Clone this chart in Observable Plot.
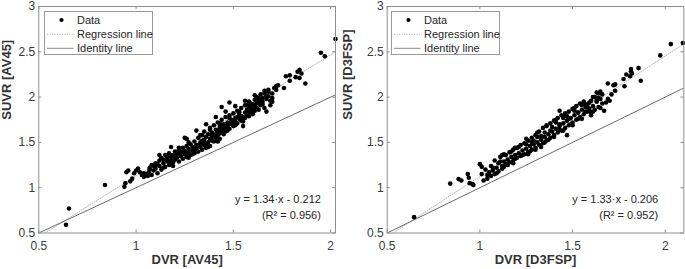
<!DOCTYPE html>
<html>
<head>
<meta charset="utf-8">
<script src="https://cdn.jsdelivr.net/npm/d3@7"></script>
<script src="https://cdn.jsdelivr.net/npm/@observablehq/plot@0.6"></script>
<style>
  html, body { margin: 0; padding: 0; background: white; }
  #wrap { position: relative; width: 685px; height: 269px; overflow: hidden; font-family: "Liberation Sans", Arial, sans-serif; }
  #wrap svg.plot { position: absolute; top: 0; }
  .legend { position: absolute; width: 109px; height: 44px; border: 1px solid #9a9a9a; background: white; box-sizing: border-box; }
</style>
</head>
<body>
<div id="wrap"></div>
<script>
// ---------------- data ----------------
const xTickValues = [0.5, 1, 1.5, 2];
const yTickValues = [0.5, 1, 1.5, 2, 2.5, 3];
const legendLabels = ["Data", "Regression line", "Identity line"];

// Panel A: AV45
const av45Dvr = [0.64,0.655,0.84,0.94,0.945,0.95,0.96,0.97,0.98,0.99,1.00,1.01,1.02,1.03,1.04,1.05,1.06,1.065,1.07,1.08,1.08,1.09,1.10,1.10,1.11,1.12,1.12,1.13,1.13,1.14,1.15,1.15,1.16,1.16,1.17,1.17,1.18,1.18,1.19,1.19,1.20,1.20,1.21,1.21,1.22,1.22,1.23,1.23,1.24,1.24,1.25,1.25,1.26,1.26,1.26,1.27,1.27,1.28,1.28,1.29,1.29,1.30,1.30,1.31,1.31,1.32,1.32,1.33,1.33,1.34,1.34,1.35,1.35,1.35,1.36,1.36,1.37,1.37,1.38,1.38,1.38,1.39,1.39,1.40,1.40,1.40,1.41,1.41,1.42,1.42,1.43,1.43,1.43,1.44,1.44,1.44,1.45,1.45,1.46,1.46,1.46,1.47,1.47,1.48,1.48,1.48,1.49,1.49,1.50,1.50,1.51,1.51,1.52,1.52,1.53,1.53,1.54,1.54,1.55,1.55,1.56,1.56,1.57,1.57,1.58,1.58,1.59,1.59,1.60,1.60,1.61,1.61,1.62,1.62,1.63,1.63,1.64,1.64,1.65,1.65,1.66,1.66,1.67,1.67,1.68,1.68,1.69,1.69,1.70,1.71,1.72,1.73,1.76,1.77,1.79,1.79,1.82,1.83,1.84,1.84,1.85,1.87,1.95,1.97,2.025,
  1.09,1.11,1.14,1.18,1.20,1.22,1.24,1.27,1.29,1.30,1.31,1.33,1.34,1.36,1.37,1.39,1.41,1.42,1.44,1.45,1.47,1.48,1.50,1.51,1.52,1.53,1.54,1.56,1.57,1.58,1.59,1.60,1.61,1.62,1.63,1.65,1.67,1.70,1.72,1.60,1.55,
  1.12,1.14,1.18,1.19,1.25,1.26,1.31,1.30,1.36,1.35,1.41,1.39,1.42,1.46,1.45,1.51,1.50,1.56,1.55,1.61,1.60,1.66,1.64,1.68,1.70,1.33,1.38,1.43,1.48,1.53,1.58,1.63,1.27,1.22,1.16,1.10,1.07,1.04];
const av45Suvr = [0.59,0.77,1.03,1.01,1.05,1.17,1.19,1.07,1.10,1.16,1.19,1.21,1.17,1.14,1.12,1.15,1.13,1.17,1.22,1.25,1.14,1.19,1.21,1.27,1.16,1.30,1.24,1.20,1.33,1.27,1.23,1.36,1.29,1.32,1.25,1.38,1.30,1.34,1.28,1.36,1.31,1.40,1.33,1.37,1.29,1.42,1.35,1.39,1.32,1.44,1.37,1.41,1.34,1.46,1.54,1.39,1.43,1.36,1.48,1.41,1.45,1.38,1.51,1.43,1.47,1.40,1.55,1.45,1.50,1.42,1.58,1.47,1.53,1.62,1.44,1.56,1.50,1.59,1.46,1.54,1.66,1.52,1.61,1.51,1.57,1.69,1.55,1.64,1.58,1.72,1.60,1.67,1.54,1.63,1.75,1.89,1.59,1.70,1.66,1.78,1.62,1.72,1.68,1.65,1.80,1.94,1.70,1.75,1.68,1.82,1.73,1.77,1.71,1.85,1.76,1.80,1.74,1.88,1.78,1.68,1.83,1.91,1.80,1.86,1.84,1.95,1.88,1.82,1.92,1.86,1.97,1.90,1.88,2.00,1.94,1.86,1.97,2.03,1.92,1.99,2.04,1.88,1.84,1.98,2.06,2.01,1.91,1.96,2.04,2.10,2.12,2.13,2.10,2.23,2.24,2.18,2.22,2.28,2.30,2.21,2.26,2.15,2.49,2.45,2.64,
  1.24,1.26,1.31,1.27,1.35,1.38,1.40,1.33,1.37,1.44,1.40,1.48,1.52,1.49,1.45,1.56,1.59,1.63,1.67,1.64,1.63,1.71,1.74,1.69,1.78,1.84,1.79,1.77,1.91,1.79,1.93,1.83,1.85,1.93,1.99,1.95,2.01,1.99,2.08,1.81,1.73,
  1.36,1.22,1.45,1.24,1.55,1.38,1.63,1.41,1.70,1.49,1.78,1.58,1.51,1.84,1.62,1.90,1.70,1.96,1.76,2.02,1.84,2.07,1.91,2.08,1.95,1.58,1.64,1.71,1.77,1.83,1.90,1.96,1.50,1.44,1.34,1.25,1.20,1.16];

// Panel B: D3FSP
const d3fspDvr = [0.645,0.84,0.885,0.90,0.935,0.94,0.945,0.965,0.96,1.00,1.01,1.01,1.02,1.03,1.04,1.05,1.06,1.06,1.07,1.08,1.08,1.09,1.10,1.10,1.11,1.12,1.12,1.13,1.14,1.14,1.15,1.16,1.16,1.17,1.18,1.18,1.19,1.20,1.20,1.21,1.22,1.22,1.23,1.24,1.24,1.25,1.26,1.26,1.27,1.28,1.28,1.29,1.30,1.30,1.31,1.32,1.32,1.33,1.34,1.34,1.35,1.36,1.36,1.37,1.38,1.38,1.39,1.40,1.40,1.41,1.42,1.42,1.43,1.43,1.44,1.44,1.45,1.46,1.46,1.47,1.47,1.48,1.48,1.49,1.50,1.50,1.51,1.52,1.52,1.53,1.54,1.54,1.55,1.56,1.56,1.57,1.58,1.58,1.59,1.60,1.60,1.61,1.62,1.62,1.63,1.63,1.64,1.65,1.65,1.66,1.67,1.69,1.69,1.70,1.71,1.72,1.73,1.73,1.775,1.78,1.79,1.81,1.815,1.815,1.82,1.856,1.868,1.973,2.03,2.095,
  1.11,1.13,1.15,1.17,1.19,1.21,1.23,1.25,1.27,1.29,1.31,1.33,1.35,1.37,1.39,1.41,1.43,1.45,1.47,1.49,1.51,1.53,1.55,1.57,1.59,1.61,1.64,1.66,1.68,
  1.12,1.13,1.19,1.18,1.25,1.26,1.31,1.30,1.36,1.35,1.41,1.40,1.46,1.45,1.51,1.50,1.56,1.55,1.61,1.60,1.64,1.65,1.28,1.33,1.38,1.43,1.48,1.53,1.58,1.63,1.04,1.07,1.09];
const d3fspSuvr = [0.675,1.045,1.095,1.08,1.15,1.11,1.05,1.03,1.04,1.26,1.23,1.15,1.08,1.20,1.10,1.17,1.13,1.24,1.19,1.15,1.30,1.22,1.18,1.27,1.34,1.24,1.21,1.29,1.26,1.36,1.31,1.28,1.39,1.34,1.30,1.42,1.36,1.33,1.44,1.38,1.35,1.47,1.41,1.37,1.49,1.43,1.39,1.52,1.46,1.42,1.55,1.48,1.44,1.58,1.50,1.47,1.62,1.53,1.49,1.66,1.56,1.52,1.69,1.59,1.55,1.71,1.62,1.58,1.74,1.65,1.61,1.77,1.68,1.85,1.63,1.80,1.71,1.66,1.82,1.74,1.58,1.69,1.84,1.77,1.72,1.87,1.80,1.75,1.90,1.83,1.78,1.93,1.86,1.81,1.95,1.89,1.84,1.92,1.87,1.96,1.80,1.90,2.00,1.86,1.95,2.05,1.89,1.98,2.06,1.93,1.85,2.15,1.98,1.96,2.03,2.13,2.14,2.07,2.20,2.12,2.25,2.23,2.31,2.285,2.26,2.32,2.18,2.46,2.585,2.597,
  1.29,1.37,1.25,1.40,1.32,1.45,1.36,1.48,1.40,1.52,1.56,1.45,1.61,1.53,1.67,1.72,1.64,1.77,1.79,1.70,1.85,1.76,1.91,1.84,1.94,1.84,1.99,2.03,1.94,
  1.36,1.23,1.44,1.27,1.54,1.37,1.61,1.42,1.68,1.50,1.75,1.56,1.81,1.63,1.88,1.69,1.93,1.76,2.00,1.83,2.04,1.88,1.50,1.57,1.63,1.70,1.76,1.83,1.89,1.96,1.14,1.22,1.16];

const panels = [
  {dvr: av45Dvr, suvr: av45Suvr, xMax: 2.025, tracer: "AV45", slope: 1.34, intercept: -0.212, r2: "0.956",
   left: 0, width: 342, marginLeft: 38.3, marginRight: 7, yLabelDx: -31.5, eqX: 1.95, legendLeft: 44},
  {dvr: d3fspDvr, suvr: d3fspSuvr, xMax: 2.1, tracer: "D3FSP", slope: 1.33, intercept: -0.206, r2: "0.952",
   left: 342, width: 343, marginLeft: 44.7, marginRight: 1.7, yLabelDx: -39, eqX: 1.962, legendLeft: 391}
];

// ---------------- drawing ----------------
const fmt = d3.format("~g");
const axisGray = "#8f8f8f";
const textGray = "#3a3a3a";
const H = 269, marginTop = 6, marginBottom = 36.5;
const tickLen = 3;
const wrap = document.getElementById("wrap");

for (const p of panels) {
  const pts = p.dvr.map((x, i) => ({x, y: p.suvr[i]}));
  const xDom = [0.5, p.xMax];
  const reg = xDom.map(x => ({x, y: p.slope * x + p.intercept}));
  const ident = xDom.map(x => ({x, y: x}));
  const fw = p.width - p.marginLeft - p.marginRight;
  const fh = H - marginTop - marginBottom;
  const eq = `y = ${p.slope}·x - ${Math.abs(p.intercept)}`;
  const r2 = `(R² = ${p.r2})`;

  const chart = Plot.plot({
    width: p.width, height: H,
    marginLeft: p.marginLeft, marginRight: p.marginRight, marginTop, marginBottom,
    x: {domain: xDom},
    y: {domain: [0.5, 3]},
    style: {fontFamily: "'Liberation Sans', Arial, sans-serif", fontSize: "12px", color: textGray, background: "transparent", overflow: "visible"},
    marks: [
      Plot.axisX({ticks: xTickValues, tickFormat: fmt, tickSize: 0, tickPadding: 8, label: null, fontSize: 12, fill: textGray}),
      Plot.axisY({ticks: yTickValues, tickFormat: fmt, tickSize: 0, tickPadding: 3.5, label: null, fontSize: 12, fill: textGray}),
      Plot.tickX(xTickValues, {x: d => d, stroke: axisGray, insetTop: fh - tickLen}),
      Plot.tickX(xTickValues, {x: d => d, stroke: axisGray, insetBottom: fh - tickLen}),
      Plot.tickY(yTickValues, {y: d => d, stroke: axisGray, insetRight: fw - tickLen}),
      Plot.tickY(yTickValues, {y: d => d, stroke: axisGray, insetLeft: fw - tickLen}),
      Plot.line(reg, {x: "x", y: "y", stroke: "#b5b5b5", strokeWidth: 1, strokeDasharray: "1,1.5", clip: true}),
      Plot.line(ident, {x: "x", y: "y", stroke: "#6a6a6a", strokeWidth: 1, clip: true}),
      Plot.dot(pts, {x: "x", y: "y", r: 2.3, fill: "black", stroke: null}),
      Plot.frame({stroke: axisGray}),
      Plot.text([eq], {x: p.eqX, y: 0.865, textAnchor: "end", fontSize: 11, fill: "#262626"}),
      Plot.text([r2], {x: p.eqX, y: 0.689, textAnchor: "end", fontSize: 11, fill: "#262626"}),
      Plot.text([`DVR [${p.tracer}]`], {frameAnchor: "bottom", dy: 30.5, fontWeight: "bold", fontSize: 13, fill: "#333"}),
      Plot.text([`SUVR [${p.tracer}]`], {frameAnchor: "left", dx: p.yLabelDx, rotate: -90, fontWeight: "bold", fontSize: 13, fill: "#333"})
    ]
  });
  chart.classList.add("plot");
  chart.style.left = p.left + "px";
  wrap.appendChild(chart);

  // legend overlay
  const lg = document.createElement("div");
  lg.className = "legend";
  lg.style.left = p.legendLeft + "px";
  lg.style.top = "11px";
  const rowsY = [9, 23.3, 37.3];
  lg.innerHTML = `<svg width="109" height="44" style="position:absolute;left:-1px;top:-1px;overflow:visible" font-family="'Liberation Sans', Arial, sans-serif" font-size="11" fill="#262626">
    <circle cx="17.5" cy="${rowsY[0]}" r="2.1" fill="black"></circle>
    <line x1="3" x2="29.5" y1="${rowsY[1]}" y2="${rowsY[1]}" stroke="#b5b5b5" stroke-dasharray="1,1.5"></line>
    <line x1="3" x2="29.5" y1="${rowsY[2]}" y2="${rowsY[2]}" stroke="#8a8a8a"></line>
    ${legendLabels.map((t, i) => `<text x="33" y="${rowsY[i]}" dy="0.35em">${t}</text>`).join("")}
  </svg>`;
  wrap.appendChild(lg);
}
</script>
</body>
</html>
